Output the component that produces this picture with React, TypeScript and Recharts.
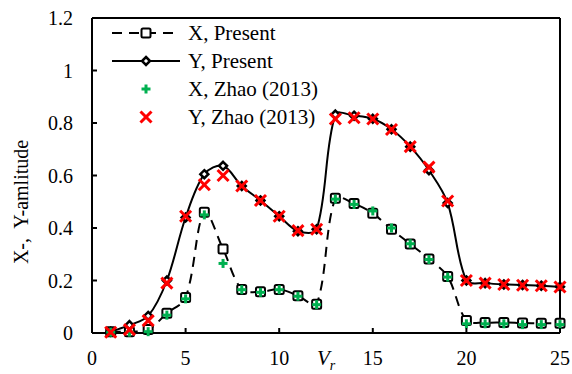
import { ComposedChart, Line, XAxis, YAxis, ReferenceLine, Legend } from "recharts";

const vr = [1, 2, 3, 4, 5, 6, 7, 8, 9, 10, 11, 12, 13, 14, 15, 16, 17, 18, 19, 20, 21, 22, 23, 24, 25];
const xPresent = [0.005, 0.005, 0.013, 0.075, 0.135, 0.46, 0.32, 0.166, 0.157, 0.166, 0.142, 0.11, 0.513, 0.493, 0.456, 0.395, 0.339, 0.282, 0.215, 0.048, 0.04, 0.04, 0.038, 0.037, 0.037];
const yPresent = [0.005, 0.03, 0.065, 0.2, 0.44, 0.605, 0.637, 0.56, 0.505, 0.445, 0.388, 0.395, 0.832, 0.828, 0.816, 0.776, 0.71, 0.62, 0.495, 0.2, 0.19, 0.185, 0.183, 0.18, 0.176];
const xZhao = [0.003, 0.003, 0.005, 0.068, 0.13, 0.45, 0.265, 0.165, 0.155, 0.165, 0.14, 0.108, 0.51, 0.49, 0.465, 0.4, 0.34, 0.28, 0.213, 0.035, 0.035, 0.035, 0.032, 0.032, 0.032];
const yZhao = [0.003, 0.013, 0.047, 0.19, 0.445, 0.565, 0.6, 0.56, 0.505, 0.445, 0.39, 0.395, 0.815, 0.82, 0.815, 0.775, 0.71, 0.632, 0.503, 0.2, 0.19, 0.185, 0.182, 0.18, 0.175];

const xTicks = [0, 5, 10, 15, 20, 25];
const yTicks = [0, 0.2, 0.4, 0.6, 0.8, 1, 1.2];

const data = vr.map((x, i) => ({ x, xp: xPresent[i], yp: yPresent[i], xz: xZhao[i], yz: yZhao[i] }));

const FONT = "'Liberation Serif', 'Times New Roman', serif";
const GREEN = "#00B050";
const RED = "#FF0000";

// smoothed line, tangents weighted by chord length so steep jumps don't overshoot much
function smoothCurve(context: any) {
  let pts: number[][] = [];
  const dist = (a: number[], b: number[]) => Math.hypot(b[0] - a[0], b[1] - a[1]);
  return {
    areaStart() {},
    areaEnd() {},
    lineStart() {
      pts = [];
    },
    point(x: number, y: number) {
      pts.push([+x, +y]);
    },
    lineEnd() {
      const n = pts.length;
      if (!n) return;
      context.moveTo(pts[0][0], pts[0][1]);
      for (let i = 0; i < n - 1; i++) {
        const p0 = pts[i - 1] || pts[i];
        const p1 = pts[i];
        const p2 = pts[i + 1];
        const p3 = pts[i + 2] || pts[i + 1];
        const d01 = dist(p0, p1);
        const d12 = dist(p1, p2);
        const d23 = dist(p2, p3);
        const f1 = d01 + d12 > 0 ? d12 / (d01 + d12) / 3 : 0;
        const f2 = d12 + d23 > 0 ? d12 / (d12 + d23) / 3 : 0;
        context.bezierCurveTo(
          p1[0] + (p2[0] - p0[0]) * f1,
          p1[1] + (p2[1] - p0[1]) * f1,
          p2[0] - (p3[0] - p1[0]) * f2,
          p2[1] - (p3[1] - p1[1]) * f2,
          p2[0],
          p2[1]
        );
      }
    },
  };
}

const Square = ({ cx, cy }: any) => (
  <rect x={cx - 4.5} y={cy - 4.5} width={9} height={9} rx={1.5} fill="#fff" stroke="#000" strokeWidth={2} />
);
const Diamond = ({ cx, cy }: any) => (
  <polygon points={`${cx},${cy - 4} ${cx + 4},${cy} ${cx},${cy + 4} ${cx - 4},${cy}`} fill="#fff" stroke="#000" strokeWidth={2.5} />
);
const Plus = ({ cx, cy }: any) => (
  <g stroke={GREEN} strokeWidth={3}>
    <line x1={cx - 4.5} x2={cx + 4.5} y1={cy} y2={cy} />
    <line x1={cx} x2={cx} y1={cy - 4.5} y2={cy + 4.5} />
  </g>
);
const Cross = ({ cx, cy }: any) => (
  <g stroke={RED} strokeWidth={3}>
    <line x1={cx - 5.5} x2={cx + 5.5} y1={cy - 5.5} y2={cy + 5.5} />
    <line x1={cx - 5.5} x2={cx + 5.5} y1={cy + 5.5} y2={cy - 5.5} />
  </g>
);

const YTick = ({ x, y, payload }: any) => (
  <g>
    <line x1={x} x2={x + 5} y1={y} y2={y} stroke="#000" strokeWidth={2} />
    <text x={x - 19} y={y} dy={7} textAnchor="end" fontFamily={FONT} fontSize={20} fill="#000">
      {String(payload.value)}
    </text>
  </g>
);

const XTick = ({ x, y, payload }: any) => (
  <g>
    <line x1={x} x2={x} y1={y} y2={y - 5} stroke="#000" strokeWidth={2} />
    <text x={x} y={y + 32} textAnchor="middle" fontFamily={FONT} fontSize={20} fill="#000">
      {String(payload.value)}
    </text>
  </g>
);

const legendItems = [
  { name: "X, Present", dash: "10 7", Marker: Square, line: true },
  { name: "Y, Present", dash: undefined, Marker: Diamond, line: true },
  { name: "X, Zhao (2013)", dash: undefined, Marker: Plus, line: false },
  { name: "Y, Zhao (2013)", dash: undefined, Marker: Cross, line: false },
];

const LegendBox = () => (
  <svg width={240} height={115}>
    {legendItems.map((it, i) => {
      const cy = 15 + i * 28;
      const M = it.Marker;
      return (
        <g key={it.name}>
          {it.line && <line x1={12} x2={80} y1={cy} y2={cy} stroke="#000" strokeWidth={2} strokeDasharray={it.dash} />}
          <M cx={46} cy={cy} />
          <text x={88} y={cy + 7} fontFamily={FONT} fontSize={21} fill="#000">
            {it.name}
          </text>
        </g>
      );
    })}
  </svg>
);

export default function App() {
  return (
    <div style={{ position: "absolute", left: 0, top: 0, width: 572, height: 374, background: "#fff" }}>
      <ComposedChart width={572} height={374} data={data} margin={{ top: 18, right: 12, bottom: 11, left: 0 }}>
        <XAxis
          dataKey="x"
          type="number"
          domain={[0, 25]}
          ticks={xTicks}
          tickSize={0}
          tickMargin={0}
          height={30}
          axisLine={{ stroke: "#000", strokeWidth: 2 }}
          tickLine={false}
          tick={<XTick />}
          label={{
            content: () => (
              <text x={317} y={365} fontFamily={FONT} fontSize={21} fontStyle="italic" fill="#000">
                V<tspan fontSize={14} dy={5}>r</tspan>
              </text>
            ),
          }}
        />
        <YAxis
          type="number"
          domain={[0, 1.2]}
          ticks={yTicks}
          width={92}
          tickSize={0}
          tickMargin={0}
          axisLine={{ stroke: "#000", strokeWidth: 2 }}
          tickLine={false}
          tick={<YTick />}
          label={{
            content: () => (
              <text
                x={21}
                y={202}
                transform="rotate(-90, 21, 202)"
                textAnchor="middle"
                dominantBaseline="central"
                fontFamily={FONT}
                fontSize={20}
                fill="#000"
                style={{ whiteSpace: "pre" }}
              >
                X-,  Y-amlitude
              </text>
            ),
          }}
        />
        <ReferenceLine x={25} stroke="#000" strokeWidth={2} />
        <ReferenceLine y={1.2} stroke="#000" strokeWidth={2} />
        <Legend
          layout="vertical"
          align="center"
          verticalAlign="middle"
          content={<LegendBox />}
          wrapperStyle={{ position: "absolute", left: 100, top: 18, width: 240, height: 115 }}
        />
        <Line
          dataKey="xp"
          type={smoothCurve as any}
          stroke="#000"
          strokeWidth={2}
          strokeDasharray="10 7"
          dot={(p: any) => <Square key={`xp${p.index}`} cx={p.cx} cy={p.cy} />}
          isAnimationActive={false}
        />
        <Line
          dataKey="yp"
          type={smoothCurve as any}
          stroke="#000"
          strokeWidth={2}
          dot={(p: any) => <Diamond key={`yp${p.index}`} cx={p.cx} cy={p.cy} />}
          isAnimationActive={false}
        />
        <Line
          dataKey="xz"
          stroke="none"
          dot={(p: any) => <Plus key={`xz${p.index}`} cx={p.cx} cy={p.cy} />}
          isAnimationActive={false}
        />
        <Line
          dataKey="yz"
          stroke="none"
          dot={(p: any) => <Cross key={`yz${p.index}`} cx={p.cx} cy={p.cy} />}
          isAnimationActive={false}
        />
      </ComposedChart>
    </div>
  );
}
